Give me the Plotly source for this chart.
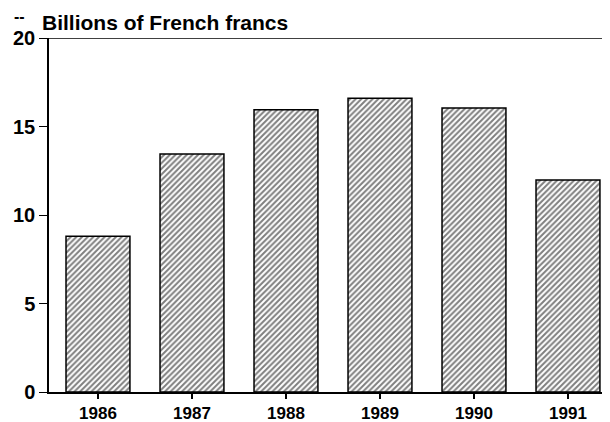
import plotly.graph_objects as go

years = ["1986", "1987", "1988", "1989", "1990", "1991"]
values = [8.8, 13.45, 15.95, 16.6, 16.05, 11.98]
y_ticks = [0, 5, 10, 15, 20]

FONT = "Liberation Sans, Arial, Helvetica, sans-serif"

# page body has an 8px margin, so the figure is sized/offset to compensate
fig = go.Figure()
fig.add_trace(go.Bar(
    x=list(range(len(years))),
    y=values,
    width=0.68,
    marker=dict(
        color="white",
        line=dict(color="black", width=1.5),
        pattern=dict(shape="/", fgcolor="black", bgcolor="white", size=4, solidity=0.5),
    ),
    showlegend=False,
    hoverinfo="skip",
))

fig.update_layout(
    width=602, height=414,
    margin=dict(l=41, r=0, t=30, b=30, autoexpand=False),
    plot_bgcolor="white", paper_bgcolor="white",
    font=dict(family=FONT, color="black", size=17, weight="bold"),
    xaxis=dict(
        range=[-0.521, 5.447],
        tickmode="array", tickvals=list(range(len(years))), ticktext=years,
        showline=True, linecolor="black", linewidth=1.5,
        ticks="outside", ticklen=5, tickcolor="black", tickwidth=1.5,
        showgrid=False, zeroline=False, automargin=False,
        tickfont=dict(family=FONT, size=17, weight="bold"),
    ),
    yaxis=dict(
        range=[0, 20],
        tickmode="array", tickvals=y_ticks,
        showline=True, linecolor="black", linewidth=1.5,
        ticks="outside", ticklen=8, tickcolor="black", tickwidth=1,
        showgrid=False, zeroline=False, automargin=False,
        tickfont=dict(family=FONT, size=20, weight="bold"),
    ),
    shapes=[dict(type="line", xref="paper", yref="y", x0=-0.016, x1=1, y0=20, y1=20,
                 line=dict(color="black", width=1.5))],
    annotations=[
        dict(text="Billions of French francs", xref="paper", yref="paper",
             x=(40 - 49) / 561, y=1.006, xanchor="left", yanchor="bottom",
             showarrow=False, font=dict(family=FONT, size=21, weight="bold")),
        dict(text="--", xref="paper", yref="paper",
             x=(12 - 49) / 561, y=1.06, xanchor="left", yanchor="middle",
             showarrow=False, font=dict(family=FONT, size=16, weight="bold")),
    ],
)

fig.write_html("out.html")
